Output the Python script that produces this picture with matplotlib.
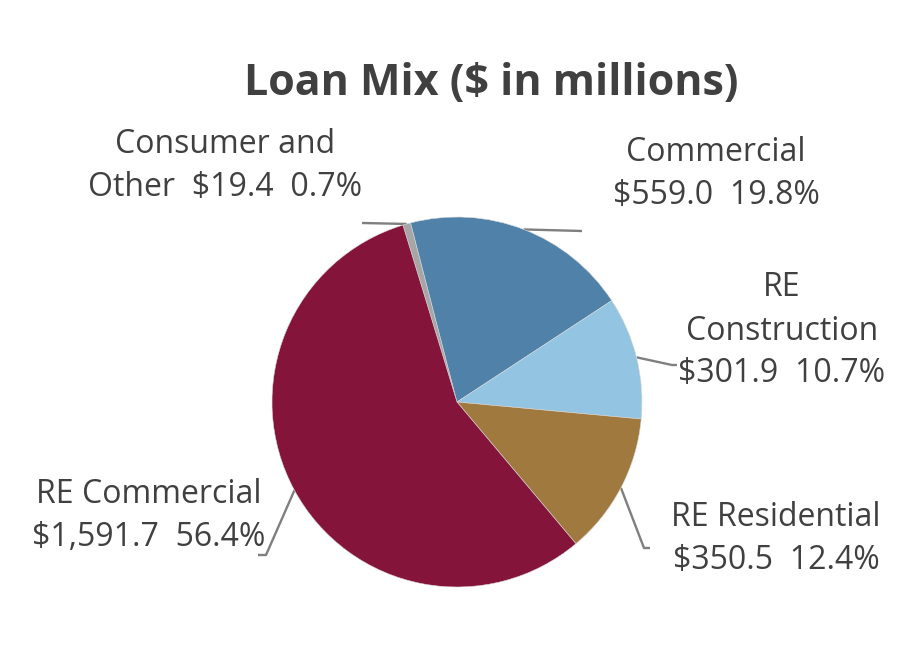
import numpy as np
import matplotlib
matplotlib.use('Agg')
import matplotlib.pyplot as plt

# loan mix data ($ in millions)
categories = ['Consumer and\nOther', 'Commercial', 'RE\nConstruction', 'RE Residential', 'RE Commercial']
amounts = [19.4, 559.0, 301.9, 350.5, 1591.7]
amount_labels = ['$19.4', '$559.0', '$301.9', '$350.5', '$1,591.7']
pct_labels = ['0.7%', '19.8%', '10.7%', '12.4%', '56.4%']
colors = ['#A6A6A6', '#4F81A9', '#93C4E1', '#A0793F', '#85143A']

plt.rcParams['font.family'] = ['Open Sans', 'DejaVu Sans']

W, H = 910, 661
fig = plt.figure(figsize=(W / 100, H / 100), dpi=100)
ax = fig.add_axes([0, 0, 1, 1])

cx, cy, r = 457, H - 402, 185
wedges, _ = ax.pie(amounts, colors=colors, startangle=107, counterclock=False,
                   center=(cx, cy), radius=r, frame=True,
                   wedgeprops=dict(linewidth=0.4, edgecolor='#D9D9D9'))
ax.set_xlim(0, W)
ax.set_ylim(0, H)
ax.set_aspect('equal')
ax.axis('off')

# label layout (pixel coords, y from top)
text_pos = [(225, 166), (716, 174), (782, 331), (776, 539), (149, 516)]
sep = ['  ', '\n', '\n', '\n', '\n']
elbows = [[(362, 223)], [(582, 231)], [(672, 365), (677, 365)],
          [(644, 548), (650, 548)], [(266, 555), (258, 555)]]

for i, w in enumerate(wedges):
    mid = np.deg2rad((w.theta1 + w.theta2) / 2)
    px = [cx + r * np.cos(mid)] + [p[0] for p in elbows[i]]
    py = [cy + r * np.sin(mid)] + [H - p[1] for p in elbows[i]]
    ax.plot(px, py, color='#7F7F7F', lw=1.7, solid_capstyle='butt', zorder=0)
    label = categories[i] + sep[i] + amount_labels[i] + '  ' + pct_labels[i]
    tx, ty = text_pos[i]
    ax.text(tx, H - ty, label, ha='center', va='center', multialignment='center',
            fontsize=23, color='#404040', linespacing=1.4)

ax.text(491, H - 95, 'Loan Mix ($ in millions)', ha='center', va='baseline',
        fontsize=31, fontweight='bold', color='#404040')

fig.savefig('out.png', dpi=100)
